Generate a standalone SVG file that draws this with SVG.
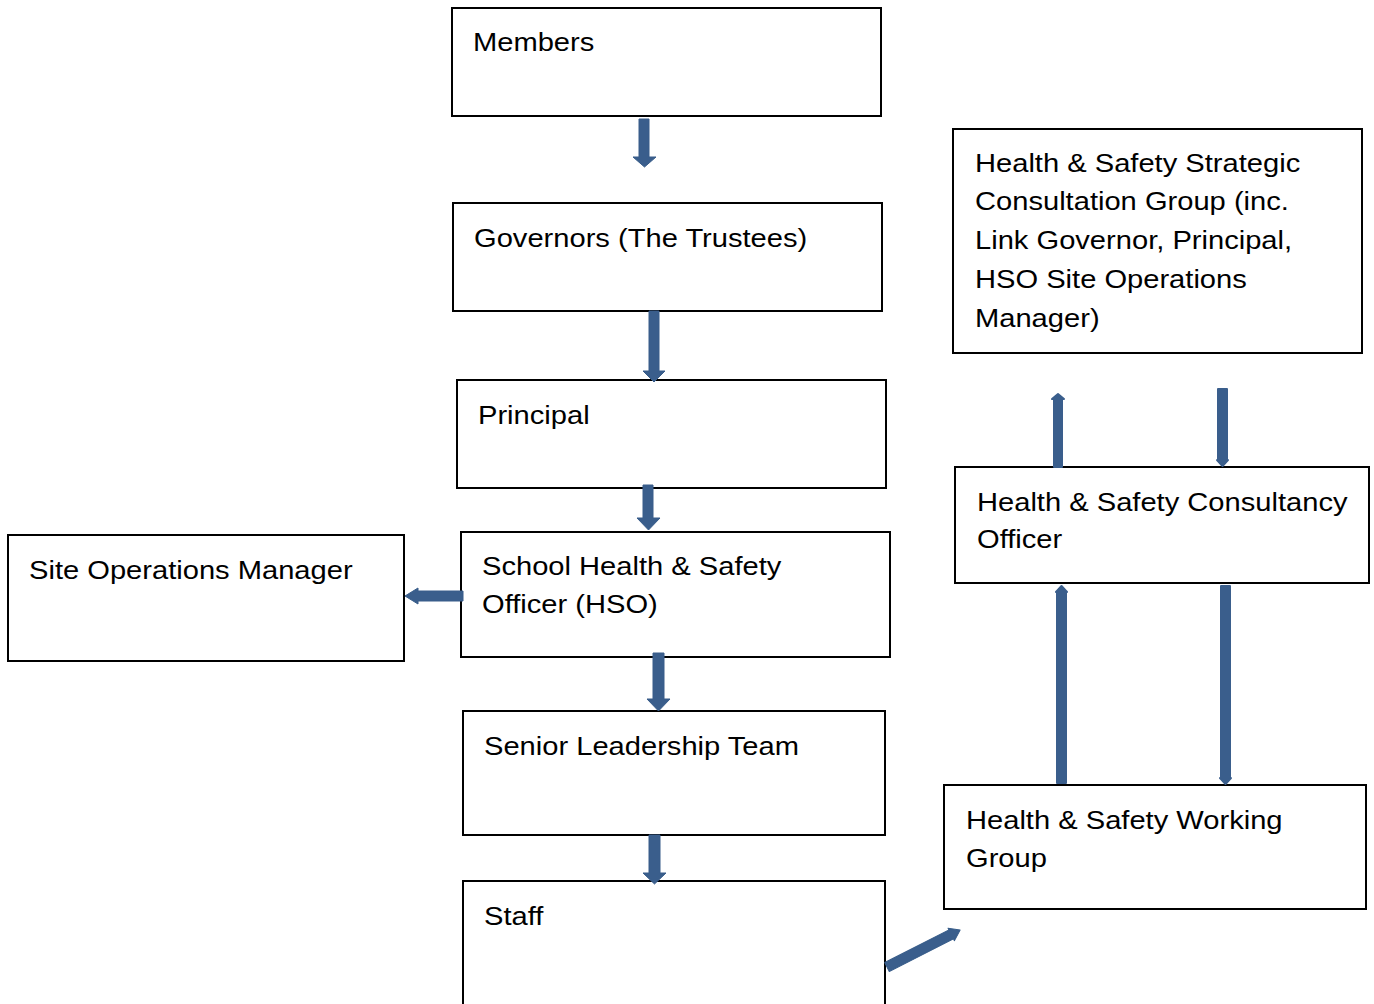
<svg xmlns="http://www.w3.org/2000/svg" width="1374" height="1004" viewBox="0 0 1374 1004">
<style>
.box{fill:#fff;stroke:#000;stroke-width:2}
.t{font-family:"Liberation Sans",Arial,sans-serif;font-size:25px;fill:#000}
.arr{fill:#3A5E8C;stroke:#385D8A;stroke-width:1;stroke-linejoin:round}
.thin{fill:#3A5E8C;stroke:#3A5E8C;stroke-width:2;stroke-linejoin:round}
</style>
<rect width="1374" height="1004" fill="#fff"/>
<g id="members"><rect class="box" x="452" y="8" width="429" height="108"/><text class="t" transform="translate(473,51) scale(1.165,1)">Members</text></g>
<g id="governors"><rect class="box" x="453" y="203" width="429" height="108"/><text class="t" transform="translate(474,246.5) scale(1.165,1)">Governors (The Trustees)</text></g>
<g id="principal"><rect class="box" x="457" y="380" width="429" height="108"/><text class="t" transform="translate(478,423.5) scale(1.165,1)">Principal</text></g>
<g id="hso"><rect class="box" x="461" y="532" width="429" height="125"/><text class="t" transform="translate(482,574.5) scale(1.165,1)"><tspan x="0" y="0">School Health &amp; Safety</tspan><tspan x="0" y="39">Officer (HSO)</tspan></text></g>
<g id="som"><rect class="box" x="8" y="535" width="396" height="126"/><text class="t" transform="translate(29,578.5) scale(1.165,1)">Site Operations Manager</text></g>
<g id="slt"><rect class="box" x="463" y="711" width="422" height="124"/><text class="t" transform="translate(484,754.5) scale(1.165,1)">Senior Leadership Team</text></g>
<g id="staff"><rect class="box" x="463" y="881" width="422" height="140"/><text class="t" transform="translate(484,924.5) scale(1.165,1)">Staff</text></g>
<g id="strategic"><rect class="box" x="953" y="129" width="409" height="224"/><text class="t" transform="translate(975,171.5) scale(1.165,1)"><tspan x="0" y="0">Health &amp; Safety Strategic</tspan><tspan x="0" y="39">Consultation Group (inc.</tspan><tspan x="0" y="78">Link Governor, Principal,</tspan><tspan x="0" y="117">HSO Site Operations</tspan><tspan x="0" y="156">Manager)</tspan></text></g>
<g id="consultancy"><rect class="box" x="955" y="467" width="414" height="116"/><text class="t" transform="translate(977,510.5) scale(1.165,1)"><tspan x="0" y="0">Health &amp; Safety Consultancy</tspan><tspan x="0" y="38">Officer</tspan></text></g>
<g id="working"><rect class="box" x="944" y="785" width="422" height="124"/><text class="t" transform="translate(966,828.5) scale(1.165,1)"><tspan x="0" y="0">Health &amp; Safety Working</tspan><tspan x="0" y="39">Group</tspan></text></g>
<g id="connectors">
<polygon class="arr" points="639,119 649,119 649,157 656,157 644.5,167 633,157 639,157"/>
<polygon class="arr" points="649,311 659,311 659,371 665,371 654,382 643,371 649,371"/>
<polygon class="arr" points="643,485 653,485 653,518 660,518 648.5,530 637,518 643,518"/>
<polygon class="arr" points="463,591 463,601 418,601 418,604 405,596 418,588 418,591"/>
<polygon class="arr" points="653,653 664,653 664,699 670,699 658.5,711 647,699 653,699"/>
<polygon class="arr" points="649,835 660,835 660,873 666,873 654.5,884 643,873 649,873"/>
<polygon class="thin" points="1054,467 1062,467 1062,399 1064,399 1058,394 1052,399 1054,399"/>
<polygon class="thin" points="1218,389 1227,389 1227,460 1228,460 1222.5,466 1217,460 1218,460"/>
<polygon class="thin" points="1057,783 1066,783 1066,592 1067,592 1061.5,586 1056,592 1057,592"/>
<polygon class="thin" points="1221,586 1230,586 1230,778 1231,778 1225.5,784 1220,778 1221,778"/>
<polygon class="arr" transform="translate(887,967) rotate(-26.9)" points="0,-5 72,-5 72,-7 82,0 72,7 72,5 0,5"/>
</g>
</svg>
